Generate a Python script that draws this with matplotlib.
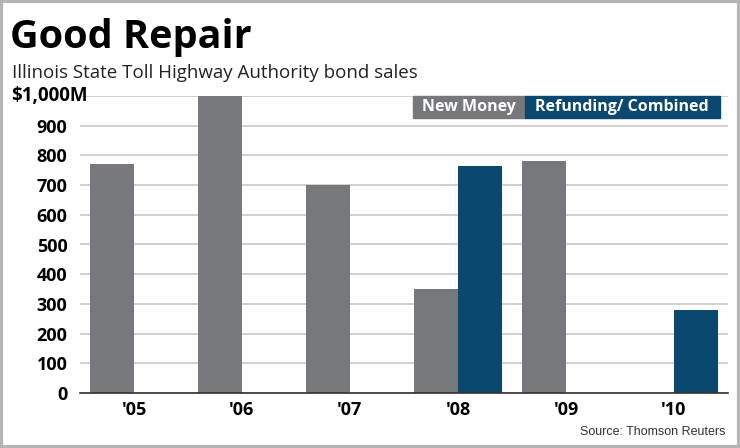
# Good Repair - Illinois toll highway bond sales
import numpy as np
import matplotlib.pyplot as plt
from matplotlib.patches import Rectangle

# data ($ millions)
years = ["'05", "'06", "'07", "'08", "'09", "'10"]
new_money = [770, 1000, 700, 350, 780, 0]
refunding = [0, 0, 0, 765, 0, 280]
yticks = [0, 100, 200, 300, 400, 500, 600, 700, 800, 900]

gray = '#77787b'
blue = '#0b4870'
font = 'Open Sans'

fig = plt.figure(figsize=(7.4, 4.48), dpi=100)
ax = fig.add_axes([80 / 740, 55 / 448, 648 / 740, 297 / 448])

x = np.arange(len(years))
w = 0.41
ax.bar(x - w / 2, new_money, w, color=gray, zorder=3)
ax.bar(x + w / 2, refunding, w, color=blue, zorder=3)

ax.set_xlim(-0.5, 5.5)
ax.set_ylim(0, 1000)
ax.set_yticks(yticks + [1000])
ax.set_yticklabels([str(t) for t in yticks] + [''])
ax.set_xticks(x)
ax.set_xticklabels(years)
for lab in ax.get_yticklabels() + ax.get_xticklabels():
    lab.set_fontfamily(font)
    lab.set_fontweight('bold')
    lab.set_fontsize(13)
ax.tick_params(axis='both', length=0)
ax.tick_params(axis='y', pad=9)
ax.tick_params(axis='x', pad=6)
ax.grid(axis='y', color='#c8c8c8', linewidth=1.2, zorder=0)
for s in ['top', 'right', 'left']:
    ax.spines[s].set_visible(False)
ax.spines['bottom'].set_color('#333333')
ax.spines['bottom'].set_linewidth(1.2)
ax.spines['bottom'].set_zorder(4)

# titles
fig.text(10 / 740, 1 - 48 / 448, 'Good Repair', fontfamily=font, fontweight='bold',
         fontsize=28.5, color='black', ha='left', va='baseline')
fig.text(12 / 740, 1 - 78 / 448, 'Illinois State Toll Highway Authority bond sales',
         fontfamily=font, fontsize=13.5, color='#222222', ha='left', va='baseline')
fig.text(11 / 740, 1 - 96 / 448, '$1,000M', fontfamily=font, fontweight='bold',
         fontsize=13.5, ha='left', va='center')

# legend boxes
fig.patches.append(Rectangle((413 / 740, 1 - 118 / 448), 112 / 740, 22 / 448,
                             transform=fig.transFigure, color=gray, zorder=5))
fig.patches.append(Rectangle((525 / 740, 1 - 118 / 448), 195 / 740, 22 / 448,
                             transform=fig.transFigure, color=blue, zorder=5))
fig.text(469 / 740, 1 - 107 / 448, 'New Money', fontfamily=font, fontweight='bold',
         fontsize=11.5, color='white', ha='center', va='center', zorder=6)
fig.text(622 / 740, 1 - 107 / 448, 'Refunding/ Combined', fontfamily=font,
         fontweight='bold', fontsize=11.5, color='white', ha='center', va='center', zorder=6)

fig.text(726 / 740, 1 - 432 / 448, 'Source: Thomson Reuters', fontfamily='Liberation Sans',
         fontsize=9, color='#333333', ha='right', va='center')

# frame
fig.patches.append(Rectangle((0.002, 0.003), 0.996, 0.994, transform=fig.transFigure,
                             fill=False, edgecolor='#b5b5b5', linewidth=3))

fig.savefig('out.png', dpi=100)
